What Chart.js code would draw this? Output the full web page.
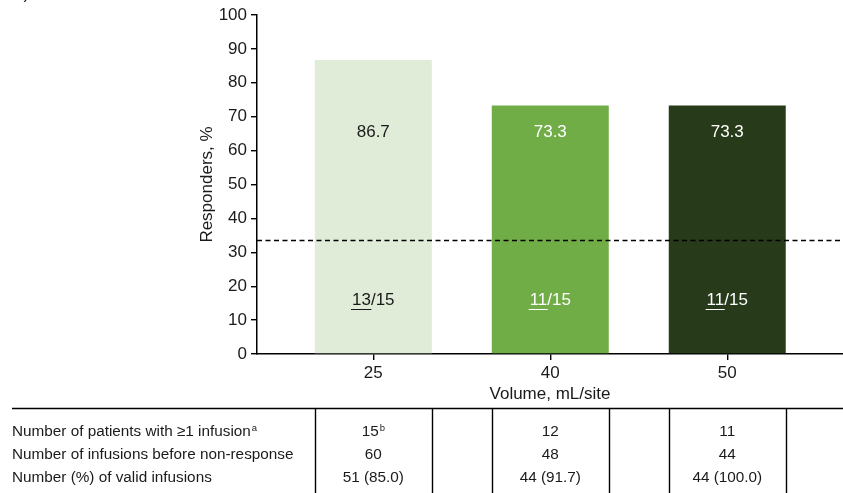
<!DOCTYPE html>
<html>
<head>
<meta charset="utf-8">
<title>Responders by infusion volume</title>
<script src="https://cdn.jsdelivr.net/npm/chart.js@4/dist/chart.umd.min.js"></script>
<style>
  html, body { margin: 0; padding: 0; background: #ffffff; }
  #wrap { width: 843px; height: 493px; position: relative; }
</style>
</head>
<body>
<div id="wrap"><canvas id="chart" width="843" height="493"></canvas></div>
<script>
// Infusion volume cohorts (mL/site)
const volumes = ['25', '40', '50'];
// Responders out of patients in each cohort
const responders = [13, 11, 11];
const cohortSize = [15, 15, 15];
// Responder rate, %
const responderPct = [86.7, 73.3, 73.3];
// Reference threshold, %
const thresholdPct = 33.7;
// Y-axis tick values
const yTicks = [0, 10, 20, 30, 40, 50, 60, 70, 80, 90, 100];

// Summary table under the chart
const tableRowLabels = [
  'Number of patients with \u22651 infusion',
  'Number of infusions before non-response',
  'Number (%) of valid infusions'
];
const tableRowNotes = ['a', '', ''];
const patientsWithInfusion = ['15', '12', '11'];
const patientsNotes = ['b', '', ''];
const infusionsBeforeNonResponse = ['60', '48', '44'];
const validInfusions = ['51 (85.0)', '44 (91.7)', '44 (100.0)'];

const barColors = ['#e0ebd8', '#70ad47', '#273a1a'];
const barTextColors = ['#1a1a1a', '#ffffff', '#ffffff'];

const FONT = '"Liberation Sans", Arial, Helvetica, sans-serif';
const TEXT = '#1a1a1a';
const TABLE_FONT = '15.3px ' + FONT;
const NOTE_FONT = '9.5px ' + FONT;

const annotations = {
  id: 'annotations',
  afterDatasetsDraw(chart) {
    const ctx = chart.ctx;
    const y = chart.scales.y;
    const area = chart.chartArea;

    // dashed threshold line
    ctx.save();
    ctx.strokeStyle = '#000';
    ctx.lineWidth = 1.4;
    ctx.setLineDash([5, 3.5]);
    const ty = Math.round(y.getPixelForValue(thresholdPct)) + 0.5;
    ctx.beginPath();
    ctx.moveTo(area.left, ty);
    ctx.lineTo(area.right, ty);
    ctx.stroke();
    ctx.restore();

    // labels inside the bars
    const meta = chart.getDatasetMeta(0);
    ctx.save();
    ctx.font = '17px ' + FONT;
    ctx.textBaseline = 'middle';
    meta.data.forEach((bar, i) => {
      ctx.fillStyle = barTextColors[i];
      ctx.strokeStyle = barTextColors[i];
      ctx.textAlign = 'center';
      ctx.fillText(responderPct[i].toFixed(1), bar.x, y.getPixelForValue(65.4));

      const num = String(responders[i]);
      const rest = '/' + cohortSize[i];
      const wNum = ctx.measureText(num).width;
      const wRest = ctx.measureText(rest).width;
      const startX = bar.x - (wNum + wRest) / 2;
      const fy = y.getPixelForValue(15.8);
      ctx.textAlign = 'left';
      ctx.fillText(num, startX, fy);
      ctx.fillText(rest, startX + wNum, fy);
      ctx.lineWidth = 1;
      const uy = Math.round(fy + 8.5) + 0.5;
      ctx.beginPath();
      ctx.moveTo(startX - 1, uy);
      ctx.lineTo(startX + wNum + 0.5, uy);
      ctx.stroke();
    });
    ctx.restore();
  },
  afterDraw(chart) {
    const ctx = chart.ctx;
    const meta = chart.getDatasetMeta(0);
    const tableTop = 408.5;
    const rowY = [432, 455, 478];

    ctx.save();
    // panel heading
    ctx.fillStyle = TEXT;
    ctx.font = '17px ' + FONT;
    ctx.textAlign = 'left';
    ctx.textBaseline = 'alphabetic';
    ctx.fillText('b) Volume cohorts', 14, -1);

    // table rules
    ctx.strokeStyle = '#000';
    ctx.lineWidth = 1.4;
    ctx.beginPath();
    ctx.moveTo(12, tableTop);
    ctx.lineTo(843, tableTop);
    meta.data.forEach(bar => {
      const half = bar.width / 2;
      [bar.x - half, bar.x + half].forEach(px => {
        const lx = Math.round(px) + 0.5;
        ctx.moveTo(lx, tableTop);
        ctx.lineTo(lx, 493);
      });
    });
    ctx.stroke();

    // row labels
    ctx.textBaseline = 'middle';
    tableRowLabels.forEach((label, r) => {
      ctx.font = TABLE_FONT;
      ctx.textAlign = 'left';
      ctx.fillText(label, 12, rowY[r]);
      if (tableRowNotes[r]) {
        const w = ctx.measureText(label).width;
        ctx.font = NOTE_FONT;
        ctx.fillText(tableRowNotes[r], 12 + w + 1, rowY[r] - 4);
      }
    });

    // cohort values
    const cols = [patientsWithInfusion, infusionsBeforeNonResponse, validInfusions];
    meta.data.forEach((bar, i) => {
      cols.forEach((col, r) => {
        ctx.font = TABLE_FONT;
        ctx.textAlign = 'center';
        const txt = col[i];
        const note = r === 0 ? patientsNotes[i] : '';
        if (note) {
          const w = ctx.measureText(txt).width;
          ctx.font = NOTE_FONT;
          const wn = ctx.measureText(note).width;
          ctx.font = TABLE_FONT;
          ctx.textAlign = 'left';
          const sx = bar.x - (w + wn + 1) / 2;
          ctx.fillText(txt, sx, rowY[r]);
          ctx.font = NOTE_FONT;
          ctx.fillText(note, sx + w + 1, rowY[r] - 4);
        } else {
          ctx.fillText(txt, bar.x, rowY[r]);
        }
      });
    });
    ctx.restore();
  }
};

const axisFont = { family: FONT, size: 17 };

new Chart(document.getElementById('chart'), {
  type: 'bar',
  data: {
    datasets: [{
      data: responderPct.map((v, i) => ({ x: i, y: v })),
      backgroundColor: barColors,
      borderWidth: 0,
      categoryPercentage: 0.661,
      barPercentage: 1
    }]
  },
  options: {
    responsive: false,
    animation: false,
    devicePixelRatio: 1,
    layout: { padding: { left: 197, top: 15, right: 0, bottom: 88 } },
    plugins: { legend: { display: false }, tooltip: { enabled: false } },
    scales: {
      x: {
        type: 'linear',
        min: -0.657,
        max: 2.654,
        offset: false,
        afterBuildTicks: s => { s.ticks = volumes.map((_, i) => ({ value: i })); },
        afterFit: s => { s.height = 51; },
        ticks: {
          autoSkip: false, maxRotation: 0, padding: 3,
          color: TEXT, font: axisFont,
          callback: v => volumes[v]
        },
        grid: { offset: false, drawOnChartArea: false, drawTicks: true, tickLength: 6, color: '#000', lineWidth: 1.4 },
        border: { display: true, color: '#000', width: 1.5 },
        title: { display: true, text: 'Volume, mL/site', color: TEXT, font: axisFont, padding: 0 }
      },
      y: {
        min: 0,
        max: 100,
        afterBuildTicks: s => { s.ticks = yTicks.map(v => ({ value: v })); },
        afterFit: s => { s.width = 60; },
        ticks: { padding: 4, color: TEXT, font: axisFont },
        grid: { drawOnChartArea: false, drawTicks: true, tickLength: 6, color: '#000', lineWidth: 1.4 },
        border: { display: true, color: '#000', width: 1.5 },
        title: { display: true, text: 'Responders, %', color: TEXT, font: axisFont, padding: 0 }
      }
    }
  },
  plugins: [annotations]
});
</script>
</body>
</html>
